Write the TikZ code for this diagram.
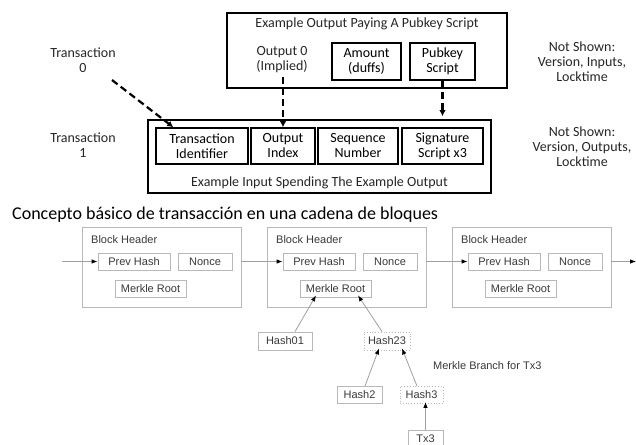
\documentclass[tikz,border=0pt]{standalone}
\usepackage{fontspec}
\setmainfont{Carlito}
\newfontfamily\arialf{Liberation Sans}
\usetikzlibrary{arrows.meta,calc}
\definecolor{boxgray}{HTML}{B8B8B8}
\definecolor{txtgray}{HTML}{383838}
\definecolor{linegray}{HTML}{A0A0A0}
\begin{document}
\begin{tikzpicture}[x=1pt,y=-1pt,
  tbox/.style={draw, line width=1.6pt, minimum height=37pt, inner sep=0pt, align=center, font=\fontsize{14}{15}\selectfont},
  frame/.style={draw, line width=1.6pt, inner sep=0pt},
  lbl/.style={align=center, font=\fontsize{14}{15}\selectfont, text=black!85},
  dasharr/.style={line width=2.2pt, dash pattern=on 7pt off 4pt, -{Latex[length=6pt,width=6.5pt]}},
  gbox/.style={draw=boxgray, line width=0.8pt, minimum height=17pt, inner sep=0pt, font=\arialf\fontsize{11}{12}\selectfont, text=txtgray},
  dbox/.style={gbox, dotted},
  block/.style={draw=boxgray, line width=0.8pt, minimum width=159pt, minimum height=80pt, inner sep=0pt},
  glbl/.style={font=\arialf\fontsize{11}{12}\selectfont, text=txtgray, inner sep=0pt},
  garr/.style={draw=linegray, line width=0.8pt, -{Latex[length=6pt,width=4.5pt,color=black]}}
]
\useasboundingbox (0,0) rectangle (636,444);

% ---------- top: output transaction ----------
\node[frame, minimum width=280pt, minimum height=75pt] (outbox) at (367,50.5) {};
\node[lbl] (outtitle) at (367,24) {Example Output Paying A Pubkey Script};
\node[lbl] (out0) at (282,60) {Output 0\\(Implied)};
\node[tbox, minimum width=69pt] (amount) at (366.5,61.5) {Amount\\(duffs)};
\node[tbox, minimum width=65pt] (pubkey) at (442.5,61.5) {Pubkey\\Script};

% ---------- input transaction ----------
\node[frame, minimum width=343pt, minimum height=73pt] (inbox) at (319.5,156.5) {};
\node[tbox, minimum width=92pt, minimum height=36pt] (txid) at (202,146) {Transaction\\Identifier};
\node[tbox, minimum width=64pt, minimum height=36pt] (outidx) at (283,146) {Output\\Index};
\node[tbox, minimum width=80pt, minimum height=36pt] (seqnum) at (358,146) {Sequence\\Number};
\node[tbox, minimum width=81pt, minimum height=36pt] (sigscr) at (442.5,146) {Signature\\Script x3};
\node[lbl] (intitle) at (319.5,183) {Example Input Spending The Example Output};

\node[lbl] (tx0) at (83,60) {Transaction\\0};
\node[lbl] (tx1) at (83,145) {Transaction\\1};
\node[lbl] (ns1) at (582,62) {Not Shown:\\Version, Inputs,\\Locktime};
\node[lbl] (ns2) at (582,147) {Not Shown:\\Version, Outputs,\\Locktime};

\coordinate (tx0end) at (112,80);
\draw[dasharr] (tx0end) -- ([xshift=18pt]txid.north west);
\draw[dasharr] (out0.south -| outidx.north) -- (outidx.north);
\draw[dasharr] (pubkey.south) -- ([yshift=3pt]pubkey.south |- inbox.north);

% ---------- title ----------
\node[anchor=west, inner sep=0pt, font=\fontsize{18}{20}\selectfont] (title) at (12,215) {Concepto básico de transacción en una cadena de bloques};

% ---------- block chain ----------
\foreach \L/\n in {82/1,267/2,452/3}{
  \node[block] (blk\n) at (\L+79.5,267) {};
  \node[glbl, anchor=west] (bh\n) at (\L+9,240) {Block Header};
  \node[gbox, minimum width=72pt] (ph\n) at (\L+52,261.5) {Prev Hash};
  \node[gbox, minimum width=54pt] (nc\n) at (\L+123,261.5) {Nonce};
  \node[gbox, minimum width=71pt] (mr\n) at (\L+68.5,288.5) {Merkle Root};
}
\coordinate (chainin) at (62,261.5);
\coordinate (chainout) at (636,261.5);
\draw[garr] (chainin) -- (ph1.west);
\draw[garr] (blk1.east |- ph2.west) -- (ph2.west);
\draw[garr] (blk2.east |- ph3.west) -- (ph3.west);
\draw[garr] (blk3.east |- ph3.west) -- (chainout);

% ---------- merkle tree ----------
\node[gbox, minimum width=54pt, minimum height=18pt] (h01) at (285,341) {Hash01};
\node[dbox, minimum width=46pt, minimum height=18pt] (h23) at (387,341) {Hash23};
\node[gbox, minimum width=45pt] (h2) at (359.5,395) {Hash2};
\node[dbox, minimum width=43pt] (h3) at (421.5,395) {Hash3};
\node[gbox, minimum width=35pt] (tx3) at (425.5,438.5) {Tx3};
\node[glbl, anchor=west] (branch) at (433,366) {Merkle Branch for Tx3};

\draw[garr] ([xshift=10pt]h01.north) -- ([xshift=-19.5pt,yshift=2pt]mr2.south);
\draw[garr] ([xshift=-5pt]h23.north) -- ([xshift=22.5pt,yshift=2pt]mr2.south);
\draw[garr] ([xshift=5.5pt]h2.north) -- ([xshift=-8pt,yshift=2pt]h23.south);
\draw[garr] ([xshift=-4.5pt]h3.north) -- ([xshift=15pt,yshift=2pt]h23.south);
\draw[garr] (tx3.north) -- ([yshift=2pt]tx3.north |- h3.south);
\end{tikzpicture}
\end{document}
